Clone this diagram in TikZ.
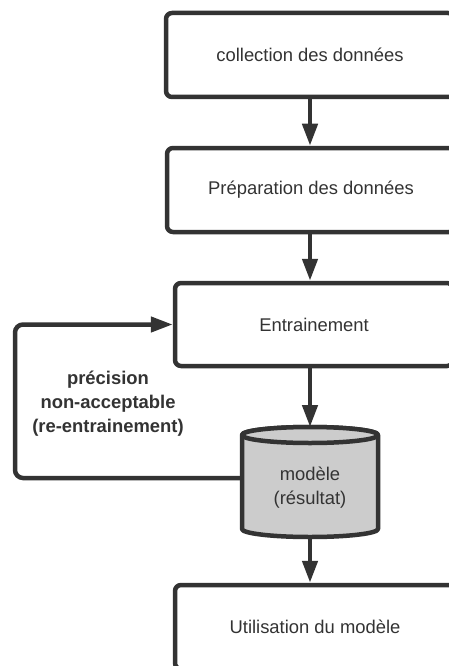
\documentclass[tikz,border=0pt]{standalone}
\usepackage{fontspec}
\setmainfont{Liberation Sans}
\usetikzlibrary{arrows.meta}
\definecolor{ink}{HTML}{333333}
\definecolor{dbfill}{HTML}{CCCCCC}
\begin{document}
\begin{tikzpicture}[x=1pt,y=-1pt,
  txt/.style={text=ink, font=\fontsize{18.4}{24}\selectfont, align=center},
  stepbox/.style={txt, draw=ink, line width=4.5pt, rounded corners=6pt, fill=white,
    minimum height=84pt, inner sep=0pt},
  flow/.style={draw=ink, line width=4.5pt, -{Triangle[length=22pt,width=15pt]}},
  dbshape/.style={draw=ink, fill=dbfill, line width=4.5pt, line join=round},
]
\useasboundingbox (0,0) rectangle (449,666);
\clip (0,0) rectangle (449,666);
\fill[white] (0,0) rectangle (449,666);

% process steps
\node[stepbox, minimum width=288pt] (collect) at (310,55) {collection des données};
\node[stepbox, minimum width=288pt] (prep) at (311,190) {Préparation des données};
\node[stepbox, minimum width=278pt, minimum height=83pt] (train) at (314,324.5) {Entrainement};
\node[stepbox, minimum width=280pt] (use) at (315,627) {Utilisation du modèle};

% model store (cylinder)
\node[minimum width=136pt, minimum height=110pt, outer sep=0pt, inner sep=0pt] (cyl) at (310,482) {};
\draw[dbshape] ([yshift=-8pt]cyl.north west) -- ([yshift=8pt]cyl.south west)
  arc[start angle=180, end angle=360, x radius=68pt, y radius=8pt]
  -- ([yshift=-8pt]cyl.north east)
  arc[start angle=0, end angle=180, x radius=68pt, y radius=8pt] -- cycle;
\draw[dbshape] ([yshift=-8pt]cyl.north) ellipse [x radius=68pt, y radius=8pt];
\node[txt] (cyltext) at (310,488) {modèle\\(résultat)};

% main flow
\draw[flow] (collect.south -| cyl.center) -- (prep.north -| cyl.center);
\draw[flow] (prep.south -| cyl.center) -- (train.north -| cyl.center);
\draw[flow] (train.south -| cyl.center) -- (cyl.north);
\draw[flow] (cyl.south) -- (use.north -| cyl.center);

% retraining loop
\coordinate (loopx) at (15,0);
\draw[flow, rounded corners=8pt] ([yshift=4pt]cyl.west) -- ([yshift=4pt]cyl.west -| loopx)
  -- (train.west -| loopx) -- (train.west);
\node[txt, font=\fontsize{18.4}{24}\selectfont\bfseries] (note) at (108,404)
  {précision\\non-acceptable\\(re-entrainement)};
\end{tikzpicture}
\end{document}
